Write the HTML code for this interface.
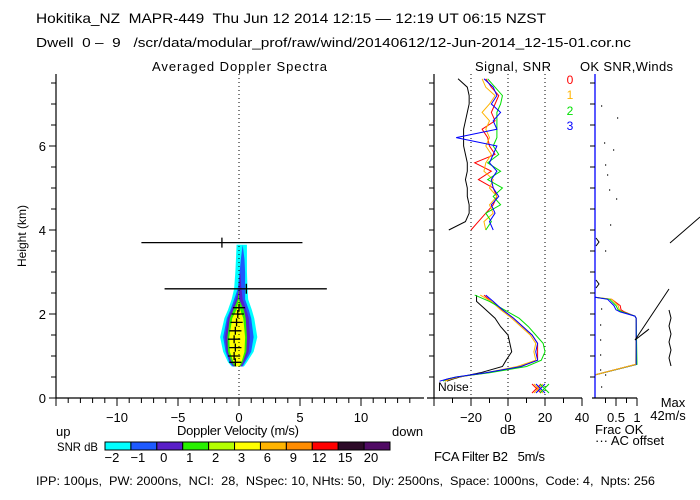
<!DOCTYPE html>
<html><head><meta charset="utf-8"><style>
body{margin:0;background:#fff}
svg{display:block;font-family:"Liberation Sans",sans-serif}
text{fill:#000;white-space:pre}
</style></head><body>
<svg id="c" width="700" height="500" viewBox="0 0 700 500" xml:space="preserve">
<text x="36" y="23" font-size="14" textLength="510" lengthAdjust="spacingAndGlyphs">Hokitika_NZ  MAPR-449  Thu Jun 12 2014 12:15 — 12:19 UT 06:15 NZST</text>
<text x="36" y="47" font-size="13" textLength="595" lengthAdjust="spacingAndGlyphs">Dwell  0 –  9   /scr/data/modular_prof/raw/wind/20140612/12-Jun-2014_12-15-01.cor.nc</text>
<text x="152" y="71" font-size="13" textLength="175">Averaged Doppler Spectra</text>
<text x="475" y="71" font-size="13" textLength="76">Signal, SNR</text>
<text x="580" y="71" font-size="13" textLength="93">OK SNR,Winds</text>
<text transform="translate(26,236) rotate(-90)" text-anchor="middle" font-size="12">Height (km)</text>
<g id="spec"></g>
<g id="snr"></g>
<g id="wind"></g>
<text x="56" y="436" font-size="13">up</text>
<text x="238" y="435" font-size="13" text-anchor="middle" textLength="122">Doppler Velocity (m/s)</text>
<text x="392" y="436" font-size="13">down</text>
<text x="508" y="434" font-size="13" text-anchor="middle">dB</text>
<text x="57" y="451" font-size="12" textLength="41" lengthAdjust="spacingAndGlyphs">SNR dB</text>
<g id="cbar"></g>
<text x="595" y="434" font-size="13">Frac OK</text>
<text x="595" y="445" font-size="13">··· AC offset</text>
<text x="673" y="407" font-size="13" text-anchor="middle">Max</text>
<text x="668" y="420" font-size="13" text-anchor="middle">42m/s</text>
<text x="434" y="461" font-size="13" textLength="111">FCA Filter B2   5m/s</text>
<text x="36" y="485" font-size="12" textLength="619" lengthAdjust="spacingAndGlyphs">IPP: 100μs,  PW: 2000ns,  NCI:  28,  NSpec: 10, NHts: 50,  Dly: 2500ns,  Space: 1000ns,  Code: 4,  Npts: 256</text>
</svg>
<script>
// ---- spectra data ----
const specH = [0.75,0.85,1.1,1.45,1.9,2.1,2.35,2.6,3.0,3.3,3.65];
const cyanL = [-0.6,-0.9,-1.3,-1.55,-1.2,-0.9,-0.6,-0.4,-0.3,-0.25,-0.2];
const cyanR = [0.4,0.65,1.2,1.5,1.25,1.05,0.75,0.7,0.65,0.65,0.65];
const blueL = [-0.5,-0.8,-1.1,-1.3,-1.0,-0.7,-0.4,-0.1,0.05,0.15,0.3];
const blueR = [0.3,0.5,1.0,1.2,1.0,0.8,0.5,0.5,0.5,0.45,0.3];
const purpL = [-0.45,-0.7,-1.0,-1.15,-0.9,-0.6,-0.25,0.0,0.1,0.2,0.3];
const purpR = [0.2,0.4,0.8,0.9,0.8,0.6,0.3,0.2,0.1,0.2,0.3];
const greenL = [-0.35,-0.6,-0.9,-0.95,-0.75,-0.45,-0.1,0,0,0,0];
const greenR = [0.1,0.3,0.6,0.65,0.55,0.4,0.0,0,0,0,0];
const yelL = [-0.2,-0.45,-0.75,-0.8,-0.55,-0.2,0,0,0,0,0];
const yelR = [0.0,0.2,0.45,0.5,0.35,0.1,0,0,0,0,0];
const crossH = [0.85,1.0,1.2,1.4,1.6,1.8,2.0,2.15];
const crossV = [-0.3,-0.4,-0.3,-0.4,-0.3,-0.2,-0.1,0.0];
const errH = [3.7,2.6];
const errMean = [-1.4,0.6];
const errLo = [-8.0,-6.1];
const errHi = [5.2,7.2];
const velTicks = [-10,-5,0,5,10];
const hTicks = [0,2,4,6];
// ---- SNR data ----
const upH = [7.6,7.4,7.2,7.0,6.8,6.6,6.4,6.2,6.0,5.8,5.6,5.4,5.2,5.0,4.8,4.6,4.4,4.2,4.0];
const upBlue = [-13,-8,-6,-9,-4,-8,-6,-28,-6,-8,-10,-6,-9,-8,-5,-9,-7,-10,-8];
const upRed = [-12,-9,-5,-7,-9,-7,-14,-11,-10,-7,-18,-9,-16,-8,-6,-8,-12,-16,-20];
const upOrange = [-14,-12,-7,-10,-14,-10,-12,-10,-12,-9,-12,-13,-8,-10,-6,-10,-8,-13,-12];
const upGreen = [-11,-7,-3,-4,-6,-6,-6,-6,-8,-5,-11,-4,-11,-3,-8,-4,-12,-9,-12];
const upNoise = [-27,-22,-21,-21,-22,-23,-24,-24,-24,-23,-22,-22,-23,-22,-22,-21,-21,-23,-32];
const loH = [2.45,2.3,2.1,1.9,1.7,1.5,1.3,1.1,0.9,0.75,0.6,0.5,0.45,0.4];
const loGreen = [-18,-10,-2,6,11,15,19,20,18,10,-10,-28,-33,-35];
const loBlue = [-12,-8,-3,3,8,13,16,15,16,7,-12,-28,-33,-37];
const loRed = [-13,-9,-3,3,8,13,16,16,16,7,-11,-27,-32,-34];
const loOrange = [-15,-9,-4,2,7,12,15,14,15,5,-12,-27,-31,-34];
const loNoise = [-17,-17,-12,-7,-4,0,1,2,-1,-3,-15,-26,-30,-33];
const dbTicks = [-20,0,20,40];
// ---- winds data ----
const wH = [2.4,2.35,2.2,2.1,2.05,1.95,1.9,0.8,0.55];
const fracBlue = [0,0.3,0.45,0.5,0.6,0.95,0.98,0.98,0];
const fracRed = [0,0.4,0.6,0.62,0.7,0.95,0.98,0.98,0];
const fracGreen = [0,0.35,0.5,0.55,0.65,0.95,0.98,1.0,0];
const fracOrange = [0,0.4,0.55,0.58,0.65,0.95,0.98,0.97,0];
const cbLabels = ["-2","-1","0","1","2","3","6","9","12","15","20"];
const cbColors = ["#00ffff","#1e5aff","#5a1ec8","#28f000","#b4ff00","#ffff00","#ffb400","#ff8c00","#ff0000","#2d0a28","#500a64"];

const NS="http://www.w3.org/2000/svg";
function mk(parent,tag,attrs){const e=document.createElementNS(NS,tag);for(const k in attrs)e.setAttribute(k,attrs[k]);parent.appendChild(e);return e;}
const yH = h => 398 - 42*h;
const xV = v => 239 + 12.2*v;
const xDB = d => 508 + 1.85*d;
const xF = f => 595 + 42*f;

// spectra panel
const spec=document.getElementById('spec');
function blob(L,R,col,name){
  let pts=[];
  for(let i=0;i<specH.length;i++)pts.push(xV(L[i])+','+yH(specH[i]));
  for(let i=specH.length-1;i>=0;i--)pts.push(xV(R[i])+','+yH(specH[i]));
  const p=mk(spec,'polygon',{points:pts.join(' '),fill:col});
  
  
}
blob(cyanL,cyanR,'#00ffff','snr-contour-cyan');
blob(blueL,blueR,'#1e5aff','snr-contour-blue');
blob(purpL,purpR,'#5a1ec8','snr-contour-purple');
blob(greenL,greenR,'#28f000','snr-contour-green');
blob(yelL,yelR,'#ffff00','snr-contour-yellow');
let z=mk(spec,'line',{x1:xV(0),x2:xV(0),y1:74,y2:398,stroke:'#000','stroke-dasharray':'1,3'});


for(let i=0;i<crossH.length;i++){
  const g=mk(spec,'path',{d:`M${xV(crossV[i]-0.5)},${yH(crossH[i])}H${xV(crossV[i]+0.5)}M${xV(crossV[i])},${yH(crossH[i])-4}V${yH(crossH[i])+4}`,stroke:'#000','stroke-width':1.3,fill:'none'});
  
  
}
for(let i=0;i<errH.length;i++){
  const g=mk(spec,'path',{d:`M${xV(errLo[i])},${yH(errH[i])}H${xV(errHi[i])}M${xV(errMean[i])},${yH(errH[i])-5}V${yH(errH[i])+5}`,stroke:'#000','stroke-width':1.3,fill:'none'});
  
  
}
let ax=mk(spec,'path',{d:'M56,74V398H424',stroke:'#000',fill:'none','stroke-width':1.2});


let tk='';
for(let h=0.5;h<=7.5;h+=0.5)tk+=`M${Number.isInteger(h/2)?49:51},${yH(h)}H56`;
tk+=`M49,398H56`;
for(let v=-15;v<=14;v++){tk+=`M${xV(v)},398V${v%5===0?406:403}`;}
let tp=mk(spec,'path',{d:tk,stroke:'#000',fill:'none'});


hTicks.forEach(h=>{const t=mk(spec,'text',{x:46,y:yH(h)+5,'font-size':13,'text-anchor':'end'});t.textContent=h;
  
  });
velTicks.forEach(v=>{const t=mk(spec,'text',{x:xV(v),y:422,'font-size':13,'text-anchor':'middle'});t.textContent=v<0?'−'+(-v):v;
  
  });

// SNR panel
const snr=document.getElementById('snr');
[-20,0,20].forEach(d=>{const l=mk(snr,'line',{x1:xDB(d),x2:xDB(d),y1:74,y2:398,stroke:'#000','stroke-dasharray':'1,3'});
  
  });
function line(par,H,V,fx,col,name){
  const pts=H.map((h,i)=>fx(V[i])+','+yH(h)).join(' ');
  const p=mk(par,'polyline',{points:pts,fill:'none',stroke:col,'stroke-width':1});
  
  
}
line(snr,upH,upNoise,xDB,'#000','noise-upper');
line(snr,loH,loNoise,xDB,'#000','noise-lower');
line(snr,upH,upRed,xDB,'#ff0000','snr-beam0-upper');
line(snr,upH,upOrange,xDB,'#ffb400','snr-beam1-upper');
line(snr,upH,upGreen,xDB,'#00e000','snr-beam2-upper');
line(snr,upH,upBlue,xDB,'#0000ff','snr-beam3-upper');
line(snr,loH,loRed,xDB,'#ff0000','snr-beam0-lower');
line(snr,loH,loOrange,xDB,'#ffb400','snr-beam1-lower');
line(snr,loH,loGreen,xDB,'#00e000','snr-beam2-lower');
line(snr,loH,loBlue,xDB,'#0000ff','snr-beam3-lower');
let sa=mk(snr,'path',{d:'M434,74V398M427,398H582',stroke:'#000',fill:'none','stroke-width':1.2});


let st='';
for(let h=0.5;h<=7.5;h+=0.5)st+=`M429,${yH(h)}H434`;
for(let d=-40;d<=40;d+=10)if(xDB(d)>=427)st+=`M${xDB(d)},398V${d%20===0?406:403}`;
let sp=mk(snr,'path',{d:st,stroke:'#000',fill:'none'});


dbTicks.forEach(d=>{const t=mk(snr,'text',{x:xDB(d),y:422,'font-size':13,'text-anchor':'middle'});t.textContent=d<0?'−'+(-d):d;
  
  });
let nl=mk(snr,'text',{x:438,y:391,'font-size':12});nl.textContent='Noise';


[['0','#ff0000',84],['1','#ffb400',99],['2','#00e000',115],['3','#0000ff',130]].forEach(b=>{
  const t=mk(snr,'text',{x:570,y:b[2],'font-size':12,'text-anchor':'middle',style:'fill:'+b[1]});t.textContent=b[0];
  
  });
[['#ff0000',0],['#ffb400',1],['#0000ff',2],['#00e000',4]].forEach(c=>{
  const x=532+c[1]*2;const p=mk(snr,'path',{d:`M${x},384l9,9M${x},393l9,-9`,stroke:c[0],fill:'none'});
  
  });

// winds panel
const wind=document.getElementById('wind');
line(wind,wH,fracRed,xF,'#ff0000','frac-ok-beam0');
line(wind,wH,fracOrange,xF,'#ffb400','frac-ok-beam1');
line(wind,wH,fracGreen,xF,'#00e000','frac-ok-beam2');
line(wind,wH,fracBlue,xF,'#0000ff','frac-ok-beam3');
let yl=mk(wind,'polyline',{points:`${xF(0.97)},${yH(0.8)} ${xF(0)},${yH(0.55)}`,stroke:'#ffb400',fill:'none'});


let bl=mk(wind,'line',{x1:595,x2:595,y1:74,y2:398,stroke:'#0000ff','stroke-width':1.3});


let wa=mk(wind,'path',{d:'M592,398H637',stroke:'#000',fill:'none','stroke-width':1.2});


let wt='';
for(let h=0.5;h<=7.5;h+=0.5)wt+=`M590,${yH(h)}H595`;
[0.25,0.5,0.75,1].forEach(f=>wt+=`M${xF(f)},398V${f===0.5||f===1?406:403}`);
let wp=mk(wind,'path',{d:wt,stroke:'#000',fill:'none'});


[['0.5',0.5],['1',1]].forEach(f=>{const t=mk(wind,'text',{x:xF(f[1]),y:422,'font-size':13,'text-anchor':'middle'});t.textContent=f[0];
  
  });
let barbs=mk(wind,'path',{d:'M669,289L635,340L648,330M635,340L649,329M670,243L700,217M669,310l2,8l-2,8l2,8l-2,8l2,8l-2,8l2,8M596,238l3,4l-3,4M596,280l3,4l-3,4',stroke:'#000',fill:'none'});


let dots='';
[[601,106],[617,118],[604,143],[613,150],[605,165],[607,175],[609,190],[616,199],[610,225],[605,251],[601,309],[600,325],[600,340],[600,355],[600,370],[601,387],[605,375]].forEach(d=>dots+=`M${d[0]},${d[1]}h1.2`);
let dp=mk(wind,'path',{d:dots,stroke:'#000',fill:'none','stroke-width':1.2});



// colorbar
const cb=document.getElementById('cbar');
const bw=(390-105)/cbColors.length;
cbColors.forEach((c,i)=>{const r=mk(cb,'rect',{x:105+i*bw,y:442,width:bw,height:8,fill:c,stroke:'#000','stroke-width':1});
  
  
  const t=mk(cb,'text',{x:105+i*bw+bw/2-6,y:462,'font-size':13,'text-anchor':'middle'});t.textContent=cbLabels[i].replace('-','−');
  
  });
</script>
</body></html>
